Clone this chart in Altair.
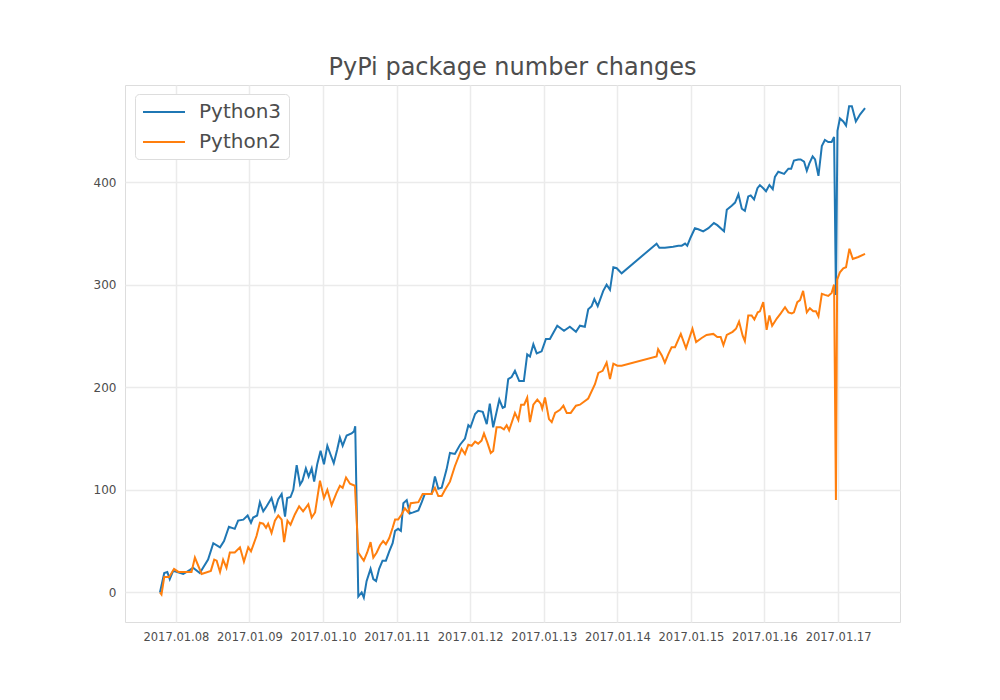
import altair as alt
import pandas as pd

# hours since 2017-01-08 00:00
py3_hours = [-5.2, -3.8, -2.8, -2.0, -0.9, 2.4, 4.6, 5.6, 7.8, 10.5, 12.2, 14.4, 15.7, 17.3, 19.2, 20.3,
             22.0, 23.4, 24.5, 25.2, 26.5, 27.4, 28.5, 29.6, 31.2, 32.3, 33.4, 34.5, 35.6, 36.3, 37.4, 38.3,
             39.4, 40.5, 41.3, 42.4, 43.3, 44.3, 45.1, 46.1, 47.2, 48.3, 49.4, 50.5, 51.5, 52.6, 53.5, 54.4,
             55.7, 57.3, 58.1, 58.5, 59.5, 60.6, 61.3, 62.2, 63.5, 64.4, 65.3, 66.3, 67.4, 68.5, 69.6, 70.7,
             71.5, 72.5, 73.4, 74.2, 75.3, 76.3, 77.4, 79.1, 80.2, 81.2, 82.3, 83.4, 84.5, 85.6, 86.7, 88.3,
             89.4, 91.0, 92.7, 94.3, 95.4, 96.1, 97.6, 98.6, 100.1, 101.4, 102.4, 103.5, 105.5, 106.6, 107.3,
             108.4, 109.5, 110.6, 112.0, 113.5, 114.6, 115.5, 116.6, 117.7, 119.3, 120.7, 122.0, 122.9, 124.4,
             126.6, 128.5, 130.5, 131.8, 133.4, 134.5, 135.6, 136.5, 137.6, 139.4, 140.5, 141.6, 142.7, 143.8,
             145.4, 156.8, 157.7, 159.5, 162.2, 163.9, 165.0, 166.1, 166.8, 167.9, 169.3, 170.4, 172.0, 173.7,
             175.5, 176.6, 178.8, 179.7, 181.3, 182.4, 183.5, 184.6, 185.6, 186.7, 187.5, 188.6, 189.7, 190.5,
             191.6, 192.5, 193.6, 194.7, 195.4, 196.5, 198.4, 199.8, 200.7, 201.6, 203.0, 203.8, 204.9, 205.8,
             206.6, 207.7, 208.5, 209.6, 210.7, 211.7, 212.8, 213.9, 214.7, 215.3, 215.8, 216.6, 217.7, 218.6,
             219.6, 220.5, 221.8, 223.2, 224.8]
py3_values = [0, 19, 20, 13, 21, 18, 22, 24, 19, 32, 48, 44, 50, 64, 62, 70,
              71, 75, 68, 73, 75, 88, 79, 84, 92, 80, 91, 96, 74, 92, 93, 100,
              124, 105, 109, 121, 113, 121, 108, 125, 138, 125, 143, 134, 126, 139, 151, 143,
              153, 155, 157, 162, -4, 0, -5, 11, 23, 13, 11, 23, 31, 31, 40, 48,
              60, 62, 60, 87, 90, 77, 78, 80, 88, 96, 96, 96, 113, 101, 102, 120,
              136, 135, 144, 150, 163, 161, 174, 177, 176, 164, 184, 161, 188, 180, 181,
              208, 210, 216, 206, 206, 232, 230, 242, 233, 235, 247, 247, 252, 260,
              255, 259, 254, 260, 259, 276, 279, 286, 279, 294, 300, 295, 317, 316,
              311, 340, 336, 336, 337, 338, 338, 340, 338, 346, 355, 354, 352, 355,
              360, 358, 352, 373, 377, 380, 388, 374, 372, 386, 387, 383, 394, 397,
              394, 391, 397, 393, 405, 410, 408, 413, 413, 421, 422, 422, 420, 411,
              418, 425, 422, 406, 435, 441, 439, 439, 444, 290, 450, 462, 459, 455,
              474, 474, 459, 466, 472]

py2_hours = [-5.2, -4.7, -3.8, -2.2, -0.6, 0.8, 5.1, 6.2, 8.4, 11.4, 12.5, 13.3, 14.4, 15.4, 16.5, 17.6,
             19.2, 20.9, 22.2, 23.6, 24.5, 26.3, 27.4, 28.5, 29.4, 30.1, 31.2, 32.3, 33.4, 34.5, 35.3, 36.4,
             37.4, 38.8, 40.2, 41.5, 43.2, 44.3, 45.4, 47.0, 48.3, 49.4, 50.8, 52.4, 53.5, 54.4, 55.5, 56.8,
             58.4, 59.5, 60.6, 61.3, 62.4, 63.5, 64.4, 65.5, 66.6, 67.6, 68.5, 69.6, 70.7, 71.5, 72.5, 73.6,
             74.7, 75.8, 76.6, 79.1, 80.5, 82.0, 83.4, 84.5, 85.6, 86.7, 87.8, 89.4, 91.0, 93.2, 94.3, 95.4,
             96.5, 97.6, 98.6, 99.7, 100.5, 101.6, 102.7, 103.5, 104.6, 105.9, 107.0, 107.9, 108.7, 110.6,
             111.7, 112.6, 113.6, 114.6, 115.5, 116.6, 117.9, 119.0, 119.5, 120.4, 121.7, 122.6, 123.7, 125.3,
             126.4, 127.5, 128.8, 130.5, 131.8, 134.5, 136.7, 137.8, 139.2, 140.5, 141.6, 142.7, 144.0, 145.4,
             156.8, 157.3, 158.5, 159.5, 160.6, 161.7, 162.8, 164.7, 166.4, 168.5, 169.7, 171.5, 173.1, 175.3,
             176.6, 177.7, 178.6, 179.7, 181.6, 182.7, 183.7, 184.9, 185.6, 186.7, 187.8, 188.7, 189.8, 190.5,
             191.6, 192.7, 193.6, 194.5, 196.0, 197.3, 198.7, 199.8, 200.9, 201.6, 202.7, 203.6, 204.6, 205.8,
             206.8, 207.9, 208.8, 209.6, 210.7, 211.7, 212.8, 213.9, 214.7, 215.3, 215.7, 216.6, 217.7, 218.6,
             219.7, 220.8, 222.6, 224.8]
py2_values = [0, -2, 15, 15, 23, 20, 20, 34, 18, 21, 32, 31, 20, 32, 24, 39,
              39, 44, 30, 44, 40, 55, 68, 67, 63, 67, 58, 70, 75, 71, 49, 70,
              66, 76, 84, 79, 86, 73, 78, 109, 92, 100, 85, 97, 104, 102, 112, 106,
              104, 39, 34, 31, 39, 49, 34, 39, 46, 50, 47, 53, 63, 71, 71, 76,
              82, 78, 87, 88, 96, 96, 96, 102, 94, 94, 100, 108, 123, 140, 135, 144,
              143, 147, 145, 148, 155, 146, 136, 138, 161, 161, 159, 163, 158, 175,
              168, 183, 183, 190, 166, 183, 188, 184, 179, 190, 169, 166, 175, 178,
              182, 175, 175, 182, 183, 189, 203, 214, 216, 224, 208, 223, 221, 221,
              230, 237, 231, 224, 232, 239, 239, 252, 238, 257, 244, 248, 251, 252,
              249, 249, 241, 251, 254, 257, 264, 250, 245, 270, 270, 266, 273, 274,
              283, 256, 270, 260, 267, 272, 278, 273, 272, 273, 283, 285, 294, 273,
              277, 274, 274, 269, 291, 290, 289, 292, 300, 90, 305, 312, 316, 317,
              335, 325, 327, 330]

series_names = ["Python3", "Python2"]
series_colors = ["#1f77b4", "#ff7f0e"]
tick_hours = [0, 24, 48, 72, 96, 120, 144, 168, 192, 216]
tick_labels = ["2017.01.08", "2017.01.09", "2017.01.10", "2017.01.11", "2017.01.12",
               "2017.01.13", "2017.01.14", "2017.01.15", "2017.01.16", "2017.01.17"]
y_ticks = [0, 100, 200, 300, 400]

df = pd.concat([
    pd.DataFrame({"hours": py3_hours, "count": py3_values, "series": "Python3"}),
    pd.DataFrame({"hours": py2_hours, "count": py2_values, "series": "Python2"}),
], ignore_index=True)

label_expr = "[" + ",".join(f"'{t}'" for t in tick_labels) + "][round(datum.value / 24)]"

TXT = "#4d4d4d"
FONT = "DejaVu Sans"

chart = alt.Chart(df).mark_line(strokeWidth=2).encode(
    x=alt.X("hours:Q",
            scale=alt.Scale(domain=[-16.6, 236.2], nice=False, zero=False),
            axis=alt.Axis(values=tick_hours, labelExpr=label_expr, title=None,
                          labelFontSize=11.5, labelColor=TXT, labelFont=FONT,
                          ticks=False, tickSize=0, domain=False, labelPadding=9,
                          grid=True, gridColor="#ebebeb", gridWidth=1.5)),
    y=alt.Y("count:Q",
            scale=alt.Scale(domain=[-28.8, 494.6], nice=False, zero=False),
            axis=alt.Axis(values=y_ticks, title=None, labelFontSize=12, labelColor=TXT,
                          labelFont=FONT, ticks=False, tickSize=0, domain=False,
                          labelPadding=9, grid=True, gridColor="#ebebeb", gridWidth=1.5)),
    color=alt.Color("series:N",
                    scale=alt.Scale(domain=series_names, range=series_colors),
                    legend=alt.Legend(title=None, orient="none", legendX=10, legendY=9,
                                      symbolType="M-1,0L3.2,0", symbolSize=400,
                                      symbolStrokeWidth=2, labelOffset=35,
                                      labelFontSize=20, labelFont=FONT, labelColor=TXT,
                                      rowPadding=9, padding=7,
                                      strokeColor="#dddddd", fillColor="white",
                                      cornerRadius=4)),
).properties(
    width=775,
    height=537,
    title=alt.TitleParams("PyPi package number changes", fontSize=24, font=FONT,
                          fontWeight="normal", color=TXT, anchor="middle",
                          baseline="alphabetic", offset=-14),
    autosize=alt.AutoSizeParams(type="none"),
    padding={"left": 125, "top": 85, "right": 100, "bottom": 78},
).configure_view(
    stroke="#cccccc", strokeWidth=1
).configure(background="white")

chart.save("out.html", embed_options={"renderer": "svg", "actions": False})
